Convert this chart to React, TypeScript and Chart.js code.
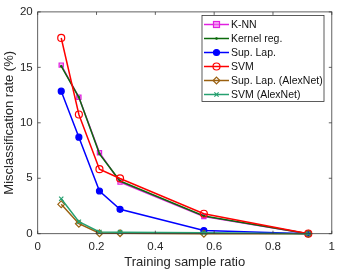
import React, { useEffect, useRef } from "react";
import { Chart, registerables } from "chart.js";

Chart.register(...registerables);

const ratios = [0.08, 0.14, 0.21, 0.28, 0.565, 0.92];
const knn = [15.2, 12.3, 7.3, 4.65, 1.55, 0];
const kernelReg = [15.1, 12.3, 7.2, 4.75, 1.6, 0];
const supLap = [12.85, 8.7, 3.85, 2.2, 0.28, 0];
const svm = [17.65, 10.75, 5.82, 4.98, 1.8, 0];
const supLapAlex = [2.65, 0.9, 0.04, 0.05, 0.0, 0];
const svmAlex = [3.15, 1.08, 0.15, 0.14, 0.08, 0];

const seriesNames = ["K-NN", "Kernel reg.", "Sup. Lap.", "SVM", "Sup. Lap. (AlexNet)", "SVM (AlexNet)"];
const xTickVals = [0, 0.2, 0.4, 0.6, 0.8, 1];
const yTickVals = [0, 5, 10, 15, 20];
const xTitle = "Training sample ratio";
const yTitle = "Misclassification rate (%)";

const FONT = "'Liberation Sans', Arial, Helvetica, sans-serif";
const AX = "#3a3a3a";

const styles = [
  { color: "#e020e0", point: "rect", radius: 3, fill: "rgba(240,120,240,0.6)" },
  { color: "#0b6a0b", point: "circle", radius: 0.7, fill: "#0b6a0b" },
  { color: "#0000ff", point: "circle", radius: 3, fill: "#0000ff" },
  { color: "#ff0000", point: "circle", radius: 3.5, fill: "rgba(255,255,255,0)" },
  { color: "#9a6010", point: "rectRot", radius: 3.4, fill: "rgba(255,255,255,0)" },
  { color: "#26a070", point: "crossRot", radius: 3, fill: "#26a070" },
];

const allValues = [knn, kernelReg, supLap, svm, supLapAlex, svmAlex];

const boxPlugin = {
  id: "matlabBox",
  afterDatasetsDraw(chart: any) {
    const { ctx, chartArea: a, scales } = chart;
    const xs = scales.x, ys = scales.y;
    ctx.save();
    ctx.strokeStyle = AX;
    ctx.lineWidth = 0.8;
    ctx.strokeRect(a.left, a.top, a.right - a.left, a.bottom - a.top);
    const tl = 3;
    ctx.beginPath();
    xTickVals.forEach((v) => {
      const px = xs.getPixelForValue(v);
      ctx.moveTo(px, a.bottom); ctx.lineTo(px, a.bottom - tl);
      ctx.moveTo(px, a.top); ctx.lineTo(px, a.top + tl);
    });
    yTickVals.forEach((v) => {
      const py = ys.getPixelForValue(v);
      ctx.moveTo(a.left, py); ctx.lineTo(a.left + tl, py);
      ctx.moveTo(a.right, py); ctx.lineTo(a.right - tl, py);
    });
    ctx.stroke();

    // legend
    const lx = 202, ly = 15.5, lw = 122, lh = 86;
    ctx.fillStyle = "#ffffff";
    ctx.fillRect(lx, ly, lw, lh);
    ctx.strokeStyle = "#333";
    ctx.lineWidth = 0.8;
    ctx.strokeRect(lx, ly, lw, lh);
    ctx.font = `10.5px ${FONT}`;
    ctx.textBaseline = "middle";
    ctx.textAlign = "left";
    seriesNames.forEach((name, i) => {
      const y = ly + 9 + i * 14;
      const s = styles[i];
      ctx.strokeStyle = s.color;
      ctx.lineWidth = 1.5;
      ctx.beginPath();
      ctx.moveTo(lx + 2, y);
      ctx.lineTo(lx + 27, y);
      ctx.stroke();
      const cx = lx + 14.5;
      ctx.lineWidth = 1.2;
      ctx.beginPath();
      const r = s.radius;
      if (s.point === "rect") {
        ctx.fillStyle = s.fill; ctx.fillRect(cx - r, y - r, 2 * r, 2 * r);
        ctx.strokeRect(cx - r, y - r, 2 * r, 2 * r);
      } else if (s.point === "rectRot") {
        ctx.moveTo(cx, y - r); ctx.lineTo(cx + r, y); ctx.lineTo(cx, y + r); ctx.lineTo(cx - r, y); ctx.closePath();
        ctx.stroke();
      } else if (s.point === "crossRot") {
        ctx.moveTo(cx - r * 0.7, y - r * 0.7); ctx.lineTo(cx + r * 0.7, y + r * 0.7);
        ctx.moveTo(cx + r * 0.7, y - r * 0.7); ctx.lineTo(cx - r * 0.7, y + r * 0.7);
        ctx.stroke();
      } else {
        ctx.arc(cx, y, r, 0, Math.PI * 2);
        ctx.fillStyle = s.fill;
        ctx.fill();
        ctx.stroke();
      }
      ctx.fillStyle = "#111";
      ctx.fillText(name, lx + 29, y + 0.5);
    });
    ctx.restore();
  },
};

export default function App() {
  const ref = useRef<HTMLCanvasElement>(null);
  useEffect(() => {
    document.body.style.margin = "0";
    const canvas = ref.current!;
    const datasets = allValues.map((vals, i) => ({
      label: seriesNames[i],
      data: vals.map((v, j) => ({ x: ratios[j], y: v })),
      borderColor: styles[i].color,
      backgroundColor: styles[i].fill,
      pointBorderColor: styles[i].color,
      pointBackgroundColor: styles[i].fill,
      pointStyle: styles[i].point as any,
      pointRadius: styles[i].radius,
      pointBorderWidth: 1.2,
      borderWidth: 1.5,
      tension: 0,
      fill: false,
      order: 10 - i,
      clip: false as any,
    }));
    const chart = new Chart(canvas, {
      type: "line",
      data: { datasets },
      options: {
        responsive: false,
        animation: false,
        events: [],
        layout: { padding: { top: 9.3, right: 7.5, left: 0, bottom: 0 } },
        plugins: { legend: { display: false }, tooltip: { enabled: false } },
        scales: {
          x: {
            type: "linear",
            min: 0,
            max: 1,
            grid: { display: false, drawTicks: false },
            border: { display: false },
            afterFit: (s: any) => { s.height = 39.3; },
            afterBuildTicks: (s: any) => { s.ticks = xTickVals.map((v) => ({ value: v })); },
            ticks: {
              padding: 6,
              color: "#262626",
              font: { family: FONT, size: 11.5 },
              maxRotation: 0,
              callback: (v: any) => String(Number(v)),
            },
            title: {
              display: true,
              text: xTitle,
              color: "#262626",
              font: { family: FONT, size: 13 },
              padding: { top: 0, bottom: 2.5 },
            },
          },
          y: {
            type: "linear",
            min: 0,
            max: 20,
            grid: { display: false, drawTicks: false },
            border: { display: false },
            afterFit: (s: any) => { s.width = 37.7; },
            afterBuildTicks: (s: any) => { s.ticks = yTickVals.map((v) => ({ value: v })); },
            ticks: {
              padding: 5,
              color: "#262626",
              font: { family: FONT, size: 11.5 },
              callback: (v: any) => String(v),
            },
            title: {
              display: true,
              text: yTitle,
              color: "#262626",
              font: { family: FONT, size: 13 },
              padding: { top: 1.5, bottom: 0 },
            },
          },
        },
      },
      plugins: [boxPlugin],
    });
    return () => chart.destroy();
  }, []);
  return (
    <div style={{ position: "fixed", left: 0, top: 0, width: 341, height: 273, background: "#fff" }}>
      <canvas ref={ref} width={341} height={273} style={{ display: "block" }} />
    </div>
  );
}
